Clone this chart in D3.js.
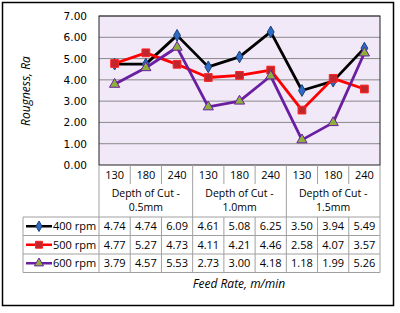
<!DOCTYPE html>
<html>
<head>
<meta charset="utf-8">
<script src="https://cdn.jsdelivr.net/npm/d3@7"></script>
<style>
  body { margin: 0; background: #fff; }
  text { font-family: "Open Sans", sans-serif; }
</style>
</head>
<body>
<svg id="chart" width="400" height="313"></svg>
<script>
// data
let feedRates = ["130", "180", "240", "130", "180", "240", "130", "180", "240"];
let depthGroups = [["Depth of Cut -", "0.5mm"], ["Depth of Cut -", "1.0mm"], ["Depth of Cut -", "1.5mm"]];
let seriesNames = ["400 rpm", "500 rpm", "600 rpm"];
let rpm400 = [4.74, 4.74, 6.09, 4.61, 5.08, 6.25, 3.50, 3.94, 5.49];
let rpm500 = [4.77, 5.27, 4.73, 4.11, 4.21, 4.46, 2.58, 4.07, 3.57];
let rpm600 = [3.79, 4.57, 5.53, 2.73, 3.00, 4.18, 1.18, 1.99, 5.26];
let yTicks = [0, 1, 2, 3, 4, 5, 6, 7];

let seriesData = [rpm400, rpm500, rpm600];
let styles = [
  {line: "#000000", fill: "#2E6CC4", stroke: "#1b3f78", shape: d3.symbolDiamond, size: 40},
  {line: "#FF0000", fill: "#C0272D", stroke: "#FF2020", shape: d3.symbolSquare, size: 60},
  {line: "#6A1FA0", fill: "#8DB03A", stroke: "#6A1FA0", shape: d3.symbolTriangle, size: 45}
];

let margin = {left: 99, right: 380, top: 16, bottom: 165};
let svg = d3.select("#chart");

// outer frame
svg.append("rect")
  .attr("x", 2.5).attr("y", 2.5).attr("width", 391).attr("height", 303)
  .attr("fill", "#fff").attr("stroke", "#000").attr("stroke-width", 1.5);

let x = d3.scaleBand()
  .domain(d3.range(feedRates.length))
  .range([margin.left, margin.right]);

let y = d3.scaleLinear()
  .domain([0, 7])
  .range([margin.bottom, margin.top]);

// plot background
svg.append("rect")
  .attr("x", margin.left).attr("y", margin.top)
  .attr("width", margin.right - margin.left).attr("height", margin.bottom - margin.top)
  .attr("fill", "#F1E8F8");

// gridlines
svg.append("g").selectAll("line")
  .data(yTicks.slice(1))
  .enter().append("line")
  .attr("x1", margin.left).attr("x2", margin.right)
  .attr("y1", d => y(d)).attr("y2", d => y(d))
  .attr("stroke", "#8a8a8a").attr("stroke-width", 1);

svg.append("rect")
  .attr("x", margin.left).attr("y", margin.top)
  .attr("width", margin.right - margin.left).attr("height", margin.bottom - margin.top)
  .attr("fill", "none").attr("stroke", "#222").attr("stroke-width", 1);

// y axis labels
svg.append("g").selectAll("text")
  .data(yTicks)
  .enter().append("text")
  .attr("x", 87).attr("y", d => y(d) + 4)
  .attr("text-anchor", "end")
  .style("font-family", "'DejaVu Sans', sans-serif")
  .style("font-size", "10.5px")
  .text(d => d.toFixed(2));

svg.append("text")
  .attr("transform", "translate(30,91) rotate(-90)")
  .attr("text-anchor", "middle")
  .style("font-size", "12px").style("font-style", "italic")
  .text("Rougness, Ra");

// data table
let rowTop = [165, 184, 217, 235.5, 254, 272.5];
let tableLeft = 23;
let grid = svg.append("g").attr("stroke", "#a0a0a0").attr("stroke-width", 1);

// category separators (header row)
d3.range(1, feedRates.length).forEach(i => {
  let xx = x(i);
  let full = i % 3 == 0;
  grid.append("line")
    .attr("x1", xx).attr("x2", xx)
    .attr("y1", rowTop[0]).attr("y2", full ? rowTop[5] : rowTop[1]);
  if (!full) {
    grid.append("line")
      .attr("x1", xx).attr("x2", xx)
      .attr("y1", rowTop[2]).attr("y2", rowTop[5]);
  }
});
[margin.left, margin.right].forEach(xx => {
  grid.append("line").attr("x1", xx).attr("x2", xx).attr("y1", rowTop[0]).attr("y2", rowTop[5]);
});
grid.append("line").attr("x1", tableLeft).attr("x2", tableLeft).attr("y1", rowTop[2]).attr("y2", rowTop[5]);
[2, 3, 4, 5].forEach(r => {
  grid.append("line").attr("x1", tableLeft).attr("x2", margin.right).attr("y1", rowTop[r]).attr("y2", rowTop[r]);
});

svg.append("g").selectAll("text")
  .data(feedRates)
  .enter().append("text")
  .attr("x", (d, i) => x(i) + x.bandwidth() / 2)
  .attr("y", 179)
  .attr("text-anchor", "middle")
  .style("font-size", "11px")
  .text(d => d);

depthGroups.forEach((g, gi) => {
  let cx = x(gi * 3) + x.bandwidth() * 1.5;
  g.forEach((line, li) => {
    svg.append("text")
      .attr("x", cx).attr("y", 197 + li * 14)
      .attr("text-anchor", "middle")
      .style("font-size", "10.5px")
      .text(line);
  });
});

let lineGen = d3.line()
  .x((d, i) => x(i) + x.bandwidth() / 2)
  .y(d => y(d));

seriesData.forEach((vals, si) => {
  let st = styles[si];
  let ry = (rowTop[2 + si] + rowTop[3 + si]) / 2;
  // legend key
  svg.append("line")
    .attr("x1", 26).attr("x2", 52).attr("y1", ry).attr("y2", ry)
    .attr("stroke", st.line).attr("stroke-width", 2.5);
  svg.append("path")
    .attr("d", d3.symbol().type(st.shape).size(st.size * 0.8)())
    .attr("transform", `translate(39,${ry})`)
    .attr("fill", st.fill).attr("stroke", st.stroke).attr("stroke-width", 1);
  svg.append("text")
    .attr("x", 53).attr("y", ry + 4)
    .style("font-size", "11px")
    .text(seriesNames[si]);
  // values
  svg.append("g").selectAll("text")
    .data(vals)
    .enter().append("text")
    .attr("x", (d, i) => x(i) + x.bandwidth() / 2)
    .attr("y", ry + 4)
    .attr("text-anchor", "middle")
    .style("font-size", "11px")
    .text(d => d.toFixed(2));
});

// series lines and markers
seriesData.forEach((vals, si) => {
  let st = styles[si];
  svg.append("path")
    .datum(vals)
    .attr("d", lineGen)
    .attr("fill", "none")
    .attr("stroke", st.line)
    .attr("stroke-width", 2.8)
    .attr("stroke-linejoin", "round");
  svg.append("g").selectAll("path")
    .data(vals)
    .enter().append("path")
    .attr("d", d3.symbol().type(st.shape).size(st.size))
    .attr("transform", (d, i) => `translate(${x(i) + x.bandwidth() / 2},${y(d)})`)
    .attr("fill", st.fill)
    .attr("stroke", st.stroke)
    .attr("stroke-width", 1);
});

svg.append("text")
  .attr("x", 239).attr("y", 288)
  .attr("text-anchor", "middle")
  .style("font-size", "12px").style("font-style", "italic")
  .text("Feed Rate, m/min");
</script>
</body>
</html>
